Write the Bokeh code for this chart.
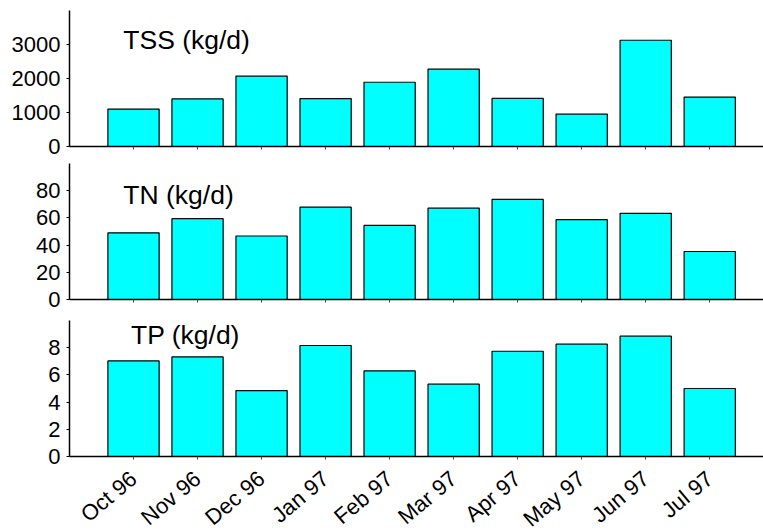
from bokeh.plotting import figure
from bokeh.layouts import column
from bokeh.models import Range1d, FixedTicker, Label
from bokeh.embed import file_html
from bokeh.resources import INLINE

months = ["Oct 96", "Nov 96", "Dec 96", "Jan 97", "Feb 97",
          "Mar 97", "Apr 97", "May 97", "Jun 97", "Jul 97"]
tss = [1100, 1400, 2070, 1410, 1890, 2275, 1415, 955, 3125, 1455]
tn = [49, 59.4, 46.7, 67.9, 54.5, 67.2, 73.6, 58.7, 63.4, 35.3]
tp = [7.03, 7.32, 4.85, 8.16, 6.29, 5.32, 7.74, 8.26, 8.85, 5.0]

tss_ticks = [0, 1000, 2000, 3000]
tn_ticks = [0, 20, 40, 60, 80]
tp_ticks = [0, 2, 4, 6, 8]

xs = list(range(len(months)))
FONT = "Liberation Sans"


def panel(vals, ymax, yticks, title, tx, ty, height, top, bottom, show_labels):
    p = figure(width=763, height=height,
               x_range=Range1d(-1, 9.84), y_range=Range1d(0, ymax),
               output_backend="svg", toolbar_location=None,
               min_border_left=69, min_border_right=0,
               min_border_top=top, min_border_bottom=bottom)
    p.vbar(x=xs, top=vals, bottom=0, width=0.8,
           fill_color="#00FFFF", line_color="black", line_width=1.2)
    p.xgrid.visible = False
    p.ygrid.visible = False
    p.outline_line_color = None
    p.background_fill_color = "white"
    p.border_fill_color = "white"

    ya = p.yaxis[0]
    ya.ticker = FixedTicker(ticks=yticks)
    ya.axis_line_color = "black"
    ya.axis_line_width = 1.5
    ya.major_tick_in = 0
    ya.major_tick_out = 3
    ya.minor_tick_line_color = None
    ya.major_tick_line_color = "black"
    ya.major_label_text_font = FONT
    ya.major_label_text_font_size = "22px"
    ya.major_label_text_color = "black"
    ya.major_label_standoff = 6

    xa = p.xaxis[0]
    xa.axis_line_color = "black"
    xa.axis_line_width = 1.5
    if show_labels:
        xa.ticker = FixedTicker(ticks=xs)
        xa.major_tick_in = 0
        xa.major_tick_out = 3
        xa.minor_tick_line_color = None
        xa.major_tick_line_color = "#444444"
        xa.major_label_overrides = {i: m for i, m in zip(xs, months)}
        xa.major_label_text_font = FONT
        xa.major_label_text_font_size = "22px"
        xa.major_label_text_color = "black"
        xa.major_label_orientation = 0.70
        xa.major_label_standoff = 16
    else:
        xa.ticker = FixedTicker(ticks=[], minor_ticks=xs)
        xa.minor_tick_in = 0
        xa.minor_tick_out = 3
        xa.minor_tick_line_color = "#444444"
        xa.minor_tick_line_width = 1
        xa.major_tick_line_color = None
        xa.major_label_standoff = 0

    p.add_layout(Label(x=tx, y=ty, text=title, text_font=FONT,
                       text_font_size="26.5px", text_color="black",
                       text_baseline="alphabetic", text_align="left"))
    return p


p1 = panel(tss, 4000, tss_ticks, "TSS (kg/d)", -0.16, 3120, 158, 10, 12, False)
p2 = panel(tn, 100, tn_ticks, "TN (kg/d)", -0.16, 77.0, 153, 5, 12, False)
p3 = panel(tp, 10, tp_ticks, "TP (kg/d)", -0.04, 8.95, 236, 9, 91, True)

layout = column(p1, p2, p3, spacing=0)
open("out.html", "w").write(file_html(layout, INLINE))
